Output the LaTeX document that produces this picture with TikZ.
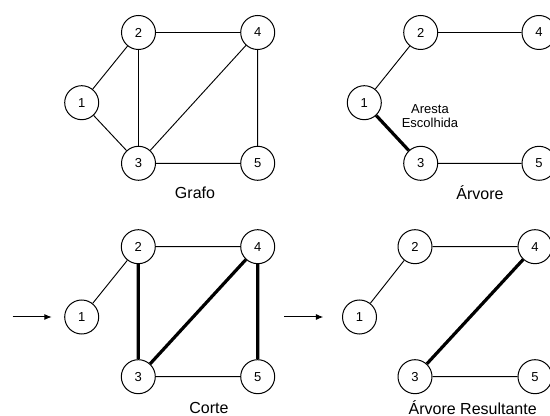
\documentclass[tikz,border=0pt]{standalone}
\usepackage{fontspec}
\setmainfont{Liberation Sans}
\usetikzlibrary{arrows.meta}
\begin{document}
\begin{tikzpicture}[x=0.75pt,y=-0.75pt,
  vert/.style={circle,draw,line width=0.75pt,minimum size=25.5pt,inner sep=0pt,font=\fontsize{9.75}{10}\selectfont},
  thin edge/.style={line width=0.7pt},
  thick edge/.style={line width=2.4pt},
  caption/.style={font=\fontsize{12}{14}\selectfont},
  arr/.style={line width=0.75pt,-{Latex[length=5.5pt,width=4.5pt]}}]
\useasboundingbox (0,0) rectangle (550,416);
% Grafo
\node[vert] (a1) at (81.7,102.7) {1};
\node[vert] (a2) at (138.5,32.5) {2};
\node[vert] (a3) at (138.5,163.3) {3};
\node[vert] (a4) at (257.7,32.5) {4};
\node[vert] (a5) at (257.7,163.3) {5};
\draw[thin edge] (a1)--(a2) (a1)--(a3) (a2)--(a3) (a2)--(a4) (a3)--(a4) (a4)--(a5) (a3)--(a5);
\node[caption] (ga) at (195,192.7) {Grafo};
% Arvore
\node[vert] (b1) at (364.3,102.7) {1};
\node[vert] (b2) at (420.7,32.5) {2};
\node[vert] (b3) at (420.7,163.3) {3};
\node[vert] (b4) at (539,32.5) {4};
\node[vert] (b5) at (539,163.3) {5};
\draw[thin edge] (b1)--(b2) (b2)--(b4) (b3)--(b5);
\draw[thick edge] (b1)--(b3);
\node[font=\fontsize{9.75}{10.3}\selectfont,align=center] (ae) at (430,116) {Aresta\\Escolhida};
\node[caption] (gb) at (480,192.7) {Árvore};
% Corte
\coordinate (s1) at (12.7,317);
\coordinate (e1) at (51.7,317);
\draw[arr] (s1)--(e1);
\node[vert] (c1) at (81.7,317) {1};
\node[vert] (c2) at (138.3,246.7) {2};
\node[vert] (c3) at (138.3,376.7) {3};
\node[vert] (c4) at (257.7,246.7) {4};
\node[vert] (c5) at (257.7,376.7) {5};
\draw[thin edge] (c1)--(c2) (c2)--(c4) (c3)--(c5);
\draw[thick edge] (c2)--(c3) (c3)--(c4) (c4)--(c5);
\node[caption] (gc) at (209,407.5) {Corte};
% Arvore Resultante
\coordinate (s2) at (284,317);
\coordinate (e2) at (323.3,317);
\draw[arr] (s2)--(e2);
\node[vert] (d1) at (359.5,317) {1};
\node[vert] (d2) at (415,246.7) {2};
\node[vert] (d3) at (415,376.7) {3};
\node[vert] (d4) at (535,246.7) {4};
\node[vert] (d5) at (535,376.7) {5};
\draw[thin edge] (d1)--(d2) (d2)--(d4) (d3)--(d5);
\draw[thick edge] (d3)--(d4);
\node[caption] (gd) at (472.7,407.5) {Árvore Resultante};
\end{tikzpicture}
\end{document}
